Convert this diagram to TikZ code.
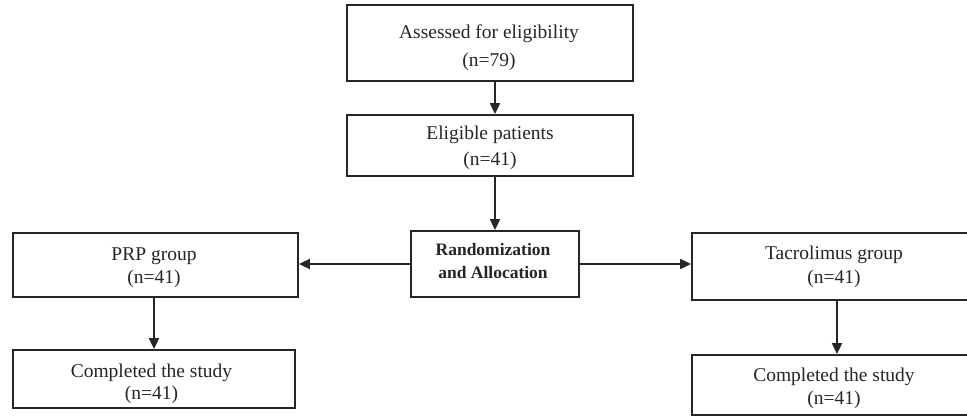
\documentclass[tikz,border=0pt]{standalone}
\usepackage{fontspec}
\setmainfont{Liberation Serif}
\usetikzlibrary{arrows.meta}
\begin{document}
\begin{tikzpicture}[x=1pt,y=-1pt,
  flowbox/.style={draw=black!85,line width=1.8pt,inner sep=0pt},
  boxtext/.style={inner sep=0pt,align=center,text=black!85},
  flowarrow/.style={draw=black!85,line width=1.8pt,-{Triangle[length=11pt,width=10pt]}}]
\useasboundingbox (0,0) rectangle (967,416);
\clip (0,0) rectangle (967,416);
\fill[white] (0,0) rectangle (967,416);
% boxes
\node[flowbox,minimum width=286,minimum height=76] (A) at (490,43) {};
\node[flowbox,minimum width=286,minimum height=61] (B) at (490,145.5) {};
\node[flowbox,minimum width=168,minimum height=66] (R) at (495,264) {};
\node[flowbox,minimum width=285,minimum height=64] (P) at (155.5,265) {};
\node[flowbox,minimum width=290,minimum height=67] (T) at (837,266.5) {};
\node[flowbox,minimum width=282,minimum height=58] (PC) at (154,379) {};
\node[flowbox,minimum width=290,minimum height=60] (TC) at (837,385) {};
% texts
\node[boxtext,font=\fontsize{19.5}{28}\selectfont] (At) at (489,47.5) {Assessed for eligibility\\(n=79)};
\node[boxtext,font=\fontsize{19.5}{26}\selectfont] (Bt) at (490,147.5) {Eligible patients\\(n=41)};
\node[boxtext,font=\fontsize{17.5}{23}\selectfont\bfseries] (Rt) at (493,261) {Randomization\\and Allocation};
\node[boxtext,font=\fontsize{19.5}{23}\selectfont] (Pt) at (154,268) {PRP group\\(n=41)};
\node[boxtext,font=\fontsize{19.5}{24}\selectfont] (Tt) at (834,266.5) {Tacrolimus group\\(n=41)};
\node[boxtext,font=\fontsize{19.5}{22}\selectfont] (PCt) at (151.5,384) {Completed the study\\(n=41)};
\node[boxtext,font=\fontsize{19.5}{23}\selectfont] (TCt) at (834,388) {Completed the study\\(n=41)};
% connectors
\draw[flowarrow] (A.south -| R) -- (B.north -| R);
\draw[flowarrow] (B.south -| R) -- (R.north);
\draw[flowarrow] (R.west) -- (P.east |- R.west);
\draw[flowarrow] (R.east) -- (T.west |- R.east);
\draw[flowarrow] (P.south -| PC) -- (PC.north);
\draw[flowarrow] (T.south) -- (TC.north);
\end{tikzpicture}
\end{document}
